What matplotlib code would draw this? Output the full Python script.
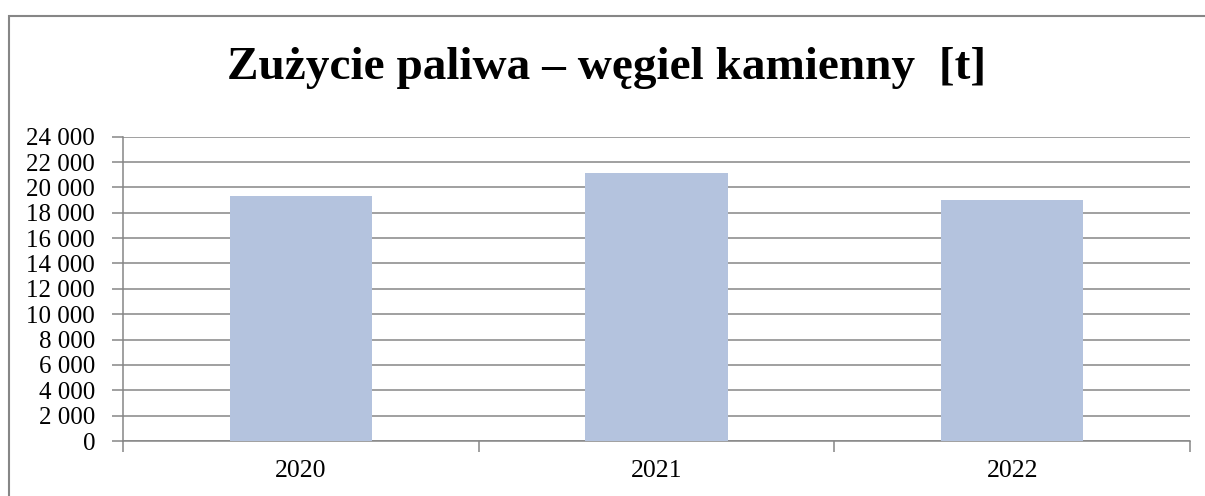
import matplotlib.pyplot as plt
from matplotlib.patches import Rectangle

# dane
years = ['2020', '2021', '2022']
coal_t = [19300, 21100, 19000]
y_ticks = list(range(0, 24001, 2000))
y_labels = ['{:,}'.format(v).replace(',', ' ') for v in y_ticks]

W, H = 1205, 496
grid_col = '#868686'
bar_col = '#B4C3DE'

plt.rcParams['font.family'] = ['Liberation Serif', 'DejaVu Serif']

fig = plt.figure(figsize=(W / 100, H / 100), dpi=100)
ax = fig.add_axes([123 / W, 1 - 441 / H, (1190 - 123) / W, (441 - 136.7) / H])

# ramka wykresu
fig.patches.append(Rectangle((9 / W, -0.1), 1.1, 1.1 - 16 / H, transform=fig.transFigure,
                             fill=False, edgecolor=grid_col, linewidth=1.5))

x = range(len(years))
ax.bar(x, coal_t, width=0.4, color=bar_col, zorder=3)

ax.set_xlim(-0.5, 2.5)
ax.set_ylim(0, 24000)
ax.set_yticks(y_ticks)
ax.set_yticklabels(y_labels, fontsize=18)
ax.set_xticks(list(x))
ax.set_xticklabels(years, fontsize=18.5)
ax.set_xticks([-0.5, 0.5, 1.5, 2.5], minor=True)

ax.tick_params(axis='y', length=8, width=1.1, color=grid_col, pad=12)
ax.tick_params(axis='x', which='major', length=0, pad=14)
ax.tick_params(axis='x', which='minor', length=8, width=1.1, color=grid_col)

ax.yaxis.grid(True, color=grid_col, linewidth=1.1, zorder=0)
ax.set_axisbelow(True)
for s in ['top', 'right']:
    ax.spines[s].set_visible(False)
for s in ['left', 'bottom']:
    ax.spines[s].set_color(grid_col)
    ax.spines[s].set_linewidth(1.1)

fig.text(607 / W, 1 - 79 / H, 'Zużycie paliwa – węgiel kamienny  [t]', ha='center', va='baseline',
         fontsize=34, fontweight='bold')

fig.savefig('out.png', dpi=100)
